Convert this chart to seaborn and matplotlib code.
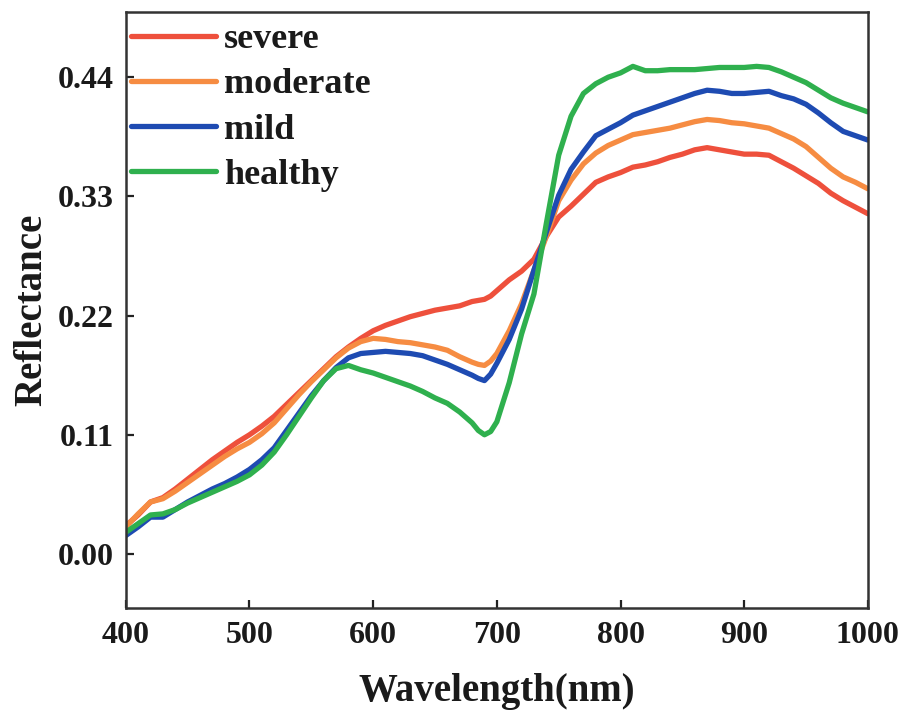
import matplotlib
matplotlib.use("Agg")
import matplotlib.pyplot as plt
import seaborn as sns
import pandas as pd

# Mean canopy reflectance spectra by disease severity
wavelength = [400, 410, 420, 430, 440, 450, 460, 470, 480, 490, 500, 510, 520, 530, 540,
              550, 560, 570, 580, 590, 600, 610, 620, 630, 640, 650, 660, 670, 680, 685,
              690, 695, 700, 710, 720, 730, 740, 750, 760, 770, 780, 790, 800, 810, 820,
              830, 840, 850, 860, 870, 880, 890, 900, 910, 920, 930, 940, 950, 960, 970,
              980, 990, 1000]

severe = [0.026, 0.036, 0.048, 0.052, 0.060, 0.069, 0.078, 0.087, 0.095, 0.103, 0.110,
          0.118, 0.127, 0.138, 0.149, 0.160, 0.171, 0.182, 0.191, 0.199, 0.206, 0.211,
          0.215, 0.219, 0.222, 0.225, 0.227, 0.229, 0.233, 0.234, 0.235, 0.238, 0.243,
          0.253, 0.261, 0.272, 0.293, 0.311, 0.321, 0.332, 0.343, 0.348, 0.352, 0.357,
          0.359, 0.362, 0.366, 0.369, 0.373, 0.375, 0.373, 0.371, 0.369, 0.369, 0.368,
          0.362, 0.356, 0.349, 0.342, 0.333, 0.326, 0.320, 0.314]

moderate = [0.025, 0.037, 0.048, 0.051, 0.058, 0.066, 0.074, 0.082, 0.090, 0.097, 0.103,
            0.111, 0.121, 0.134, 0.147, 0.159, 0.170, 0.181, 0.190, 0.196, 0.199, 0.198,
            0.196, 0.195, 0.193, 0.191, 0.188, 0.182, 0.177, 0.175, 0.174, 0.178, 0.185,
            0.206, 0.231, 0.262, 0.293, 0.326, 0.345, 0.360, 0.370, 0.377, 0.382, 0.387,
            0.389, 0.391, 0.393, 0.396, 0.399, 0.401, 0.400, 0.398, 0.397, 0.395, 0.393,
            0.388, 0.383, 0.376, 0.366, 0.356, 0.348, 0.343, 0.337]

mild = [0.017, 0.025, 0.034, 0.034, 0.041, 0.048, 0.054, 0.060, 0.065, 0.071, 0.078,
        0.087, 0.098, 0.114, 0.130, 0.146, 0.160, 0.172, 0.181, 0.185, 0.186, 0.187,
        0.186, 0.185, 0.183, 0.179, 0.175, 0.170, 0.165, 0.162, 0.160, 0.166, 0.176,
        0.198, 0.226, 0.262, 0.297, 0.331, 0.355, 0.371, 0.386, 0.392, 0.398, 0.405,
        0.409, 0.413, 0.417, 0.421, 0.425, 0.428, 0.427, 0.425, 0.425, 0.426, 0.427,
        0.423, 0.420, 0.415, 0.407, 0.398, 0.390, 0.386, 0.382]

healthy = [0.020, 0.028, 0.036, 0.037, 0.041, 0.047, 0.052, 0.057, 0.062, 0.067, 0.073,
           0.082, 0.094, 0.110, 0.127, 0.144, 0.160, 0.171, 0.174, 0.170, 0.167, 0.163,
           0.159, 0.155, 0.150, 0.144, 0.139, 0.131, 0.121, 0.114, 0.110, 0.113, 0.122,
           0.158, 0.203, 0.240, 0.305, 0.368, 0.404, 0.425, 0.434, 0.440, 0.444, 0.450,
           0.446, 0.446, 0.447, 0.447, 0.447, 0.448, 0.449, 0.449, 0.449, 0.450, 0.449,
           0.445, 0.440, 0.435, 0.428, 0.421, 0.416, 0.412, 0.408]

groups = ["severe", "moderate", "mild", "healthy"]
colors = ["#EE503C", "#F68C42", "#1E4BB2", "#2FB04E"]
y_ticks = [0.00, 0.11, 0.22, 0.33, 0.44]
x_ticks = [400, 500, 600, 700, 800, 900, 1000]

frames = []
for name, vals in zip(groups, [severe, moderate, mild, healthy]):
    frames.append(pd.DataFrame({"Wavelength": wavelength, "Reflectance": vals, "group": name}))
df = pd.concat(frames, ignore_index=True)

sns.set_theme(style="ticks")
plt.rcParams["font.family"] = ["Liberation Serif", "DejaVu Serif"]
plt.rcParams["font.weight"] = "bold"

fig = plt.figure(figsize=(9.05, 7.18), dpi=100)
ax = fig.add_axes([0.139, 0.153, 0.820, 0.830])

sns.lineplot(data=df, x="Wavelength", y="Reflectance", hue="group",
             hue_order=groups, palette=colors, linewidth=3.8, ax=ax, sort=False)

ax.set_xlim(400, 1000)
ax.set_ylim(-0.05, 0.50)
ax.set_xticks(x_ticks)
ax.set_yticks(y_ticks)
ax.set_yticklabels([f"{v:.2f}" for v in y_ticks])
ax.tick_params(direction="in", length=6, width=1.6, labelsize=23, pad=9,
               top=False, right=False, colors="#222222", labelcolor="#1a1a1a")

for sp in ax.spines.values():
    sp.set_linewidth(1.8)
    sp.set_color("#333333")

ax.set_xlabel("Wavelength(nm)", fontsize=28, fontweight="bold", labelpad=17, color="#1a1a1a")
ax.set_ylabel("Reflectance", fontsize=28, fontweight="bold", labelpad=5, color="#1a1a1a")

leg = ax.legend(loc="upper left", bbox_to_anchor=(0.007, 0.982), frameon=False,
                fontsize=26, handlelength=2.35, handletextpad=0.22, labelspacing=0.33,
                borderaxespad=0.0, borderpad=0.0)
for line in leg.get_lines():
    line.set_linewidth(3.8)
for t in leg.get_texts():
    t.set_fontweight("bold")
    t.set_color("#1a1a1a")

fig.savefig("out.png", dpi=100)
